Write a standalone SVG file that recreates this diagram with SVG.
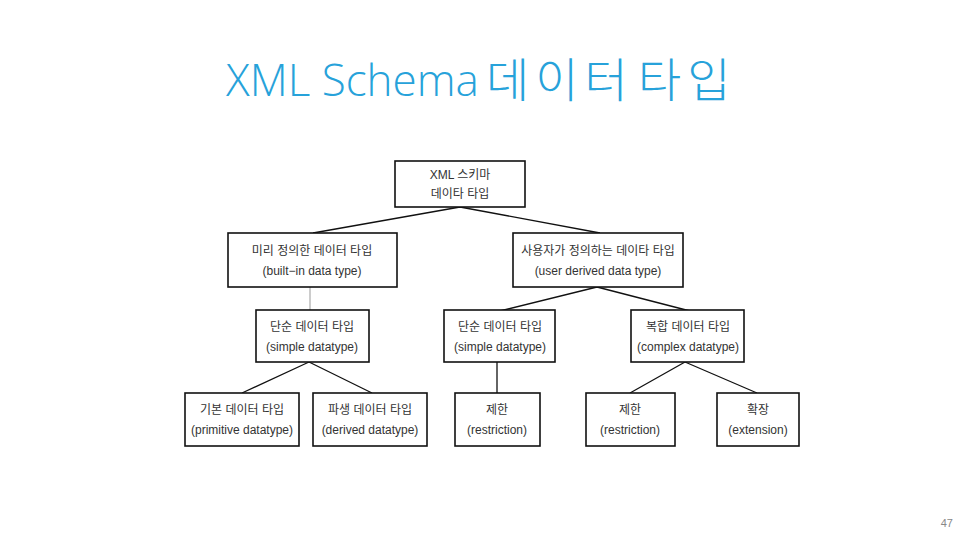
<svg xmlns="http://www.w3.org/2000/svg" width="960" height="540" viewBox="0 0 960 540">
<style>
.box{fill:#fff;stroke:#111;stroke-width:1.6}
.t{font-family:"Liberation Sans","Noto Sans CJK KR",sans-serif;font-size:12px;fill:#333;text-anchor:middle}
.ln{stroke:#111;stroke-width:1.3;fill:none}
.title{font-family:"Open Sans","Noto Sans CJK KR",sans-serif;font-size:44px;fill:#27A2DA;font-weight:300}
.ko{font-size:47px;letter-spacing:6px}
</style>
<rect width="960" height="540" fill="#fff"/>
<text class="title" x="226" y="96">XML Schema</text>
<text class="title ko" x="486" y="97">데이터</text>
<text class="title ko" x="638" y="97">타입</text>
<g id="connectors">
<path class="ln" d="M460 207 L313 233 M460 207 L600 233"/>
<path d="M310 287 L310 311" stroke="#999" stroke-width="1" fill="none"/>
<path class="ln" d="M597 287 L500 311 M597 287 L690 311"/>
<path class="ln" d="M309 362 L242 393 M309 362 L372 393"/>
<path class="ln" d="M497 362 L497 393"/>
<path class="ln" d="M685 362 L630 393 M685 362 L757 393"/>
</g>
<g id="root"><rect class="box" x="395" y="161" width="130" height="46"/>
<text class="t" x="460" y="179">XML 스키마</text><text class="t" x="460" y="198">데이타 타입</text></g>
<g id="builtin"><rect class="box" x="228" y="233" width="169" height="54"/>
<text class="t" x="312" y="255">미리 정의한 데이터 타입</text><text class="t" x="312" y="275">(built−in data type)</text></g>
<g id="userderived"><rect class="box" x="513" y="233" width="170" height="54"/>
<text class="t" x="598" y="255">사용자가 정의하는 데이타 타입</text><text class="t" x="598" y="275">(user derived data type)</text></g>
<g id="simple1"><rect class="box" x="256" y="310" width="113" height="52"/>
<text class="t" x="312" y="331">단순 데이터 타입</text><text class="t" x="312" y="351">(simple datatype)</text></g>
<g id="simple2"><rect class="box" x="444" y="310" width="111" height="52"/>
<text class="t" x="500" y="331">단순 데이터 타입</text><text class="t" x="500" y="351">(simple datatype)</text></g>
<g id="complex"><rect class="box" x="631" y="310" width="113" height="52"/>
<text class="t" x="688" y="331">복합 데이터 타입</text><text class="t" x="688" y="351">(complex datatype)</text></g>
<g id="primitive"><rect class="box" x="185" y="393" width="114" height="53"/>
<text class="t" x="242" y="414">기본 데이터 타입</text><text class="t" x="242" y="434">(primitive datatype)</text></g>
<g id="derived"><rect class="box" x="313" y="393" width="114" height="53"/>
<text class="t" x="370" y="414">파생 데이터 타입</text><text class="t" x="370" y="434">(derived datatype)</text></g>
<g id="restriction1"><rect class="box" x="455" y="393" width="85" height="53"/>
<text class="t" x="497" y="414">제한</text><text class="t" x="497" y="434">(restriction)</text></g>
<g id="restriction2"><rect class="box" x="586" y="393" width="89" height="53"/>
<text class="t" x="630" y="414">제한</text><text class="t" x="630" y="434">(restriction)</text></g>
<g id="extension"><rect class="box" x="717" y="393" width="82" height="53"/>
<text class="t" x="758" y="414">확장</text><text class="t" x="758" y="434">(extension)</text></g>
<text x="953" y="527" font-family="Liberation Sans,sans-serif" font-size="11" fill="#888" text-anchor="end">47</text>
</svg>
